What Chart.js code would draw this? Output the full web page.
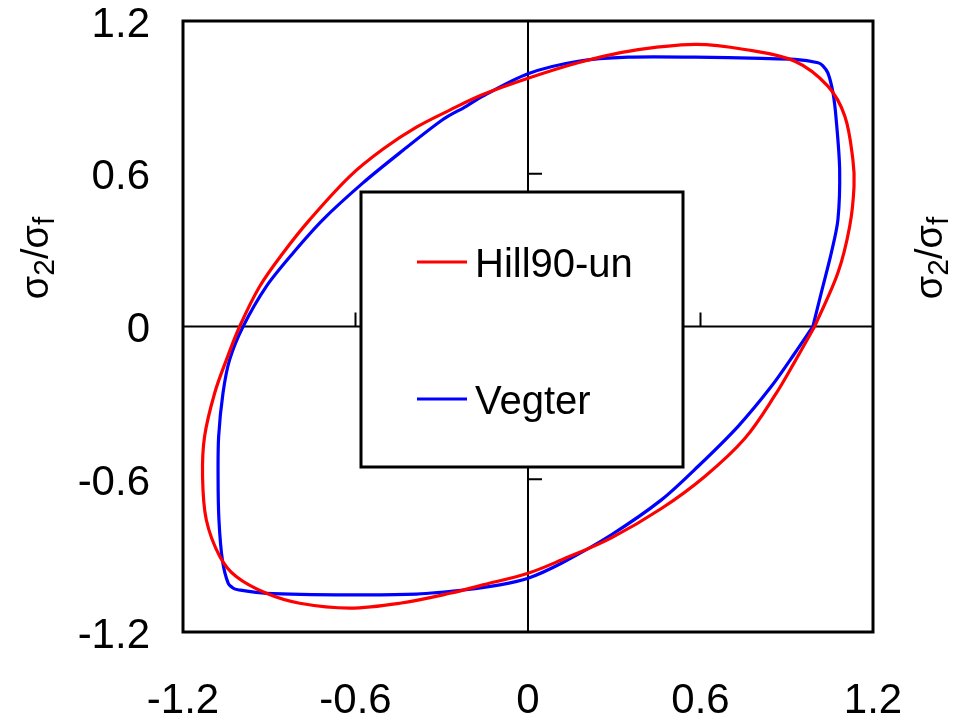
<!DOCTYPE html>
<html><head><meta charset="utf-8">
<script src="https://cdn.jsdelivr.net/npm/chart.js@4/dist/chart.umd.min.js"></script>
<style>html,body{margin:0;padding:0;background:#fff;}#wrap{width:956px;height:722px;}</style>
</head><body><div id="wrap"><canvas id="c" width="956" height="722"></canvas></div>
<script>
// ---- data ----
const tickValues = [-1.2, -0.6, 0, 0.6, 1.2];
const tickLabels = ["-1.2", "-0.6", "0", "0.6", "1.2"];
const axisTitleMain = "σ";
const axisTitleSub1 = "2";
const axisTitleSlash = "/";
const axisTitleSub2 = "f";
const seriesNames = ["Hill90-un", "Vegter"];

const hillX = [0.997, 1.078, 1.119, 1.134, 1.130, 1.102, 1.043, 0.928, 0.754, 0.580, 0.348, 0.174, 0.000, -0.157, -0.272, -0.388, -0.504, -0.620, -0.759, -0.852, -0.933, -1.003, -1.049, -1.090, -1.125, -1.132, -1.119, -1.072, -1.015, -0.910, -0.794, -0.620, -0.446, -0.272, -0.157, 0.000, 0.116, 0.290, 0.464, 0.615, 0.754, 0.858, 0.928, 0.997];
const hillY = [0.000, 0.211, 0.394, 0.551, 0.656, 0.826, 0.944, 1.042, 1.088, 1.108, 1.081, 1.036, 0.975, 0.911, 0.850, 0.783, 0.697, 0.590, 0.420, 0.289, 0.158, 0.000, -0.131, -0.262, -0.432, -0.589, -0.759, -0.903, -0.982, -1.048, -1.087, -1.106, -1.087, -1.048, -1.015, -0.969, -0.917, -0.830, -0.715, -0.589, -0.440, -0.272, -0.138, 0.000];

const vegterX = [0.991, 1.020, 1.055, 1.078, 1.084, 1.072, 1.061, 1.043, 1.025, 1.009, 0.928, 0.812, 0.580, 0.348, 0.174, 0.000, -0.157, -0.215, -0.296, -0.446, -0.574, -0.713, -0.817, -0.910, -0.991, -1.038, -1.061, -1.076, -1.078, -1.075, -1.063, -1.043, -1.025, -1.009, -0.910, -0.620, -0.388, -0.215, -0.098, 0.000, 0.116, 0.290, 0.464, 0.591, 0.730, 0.846, 0.928, 0.991];
const vegterY = [0.000, 0.132, 0.289, 0.420, 0.617, 0.813, 0.917, 0.996, 1.025, 1.036, 1.049, 1.053, 1.058, 1.058, 1.042, 0.993, 0.905, 0.865, 0.813, 0.682, 0.564, 0.420, 0.289, 0.158, 0.000, -0.131, -0.262, -0.432, -0.589, -0.759, -0.917, -1.008, -1.028, -1.034, -1.048, -1.054, -1.051, -1.034, -1.015, -0.989, -0.930, -0.818, -0.681, -0.550, -0.393, -0.236, -0.105, 0.000];

// ---- styles ----
const colors = ["#ff0000", "#0000ff"];
const FONT = "'Liberation Sans', Arial, sans-serif";

function pts(xs, ys) { return xs.map((x, i) => ({ x: x, y: ys[i] })); }

const framePlugin = {
  id: 'frame',
  beforeDatasetsDraw(chart) {
    const ctx = chart.ctx, a = chart.chartArea, sx = chart.scales.x, sy = chart.scales.y;
    const x0 = sx.getPixelForValue(0), y0 = sy.getPixelForValue(0);
    ctx.save();
    ctx.strokeStyle = '#000';
    ctx.lineWidth = 2;
    ctx.beginPath();
    ctx.moveTo(a.left, y0); ctx.lineTo(a.right, y0);
    ctx.moveTo(x0, a.top); ctx.lineTo(x0, a.bottom);
    [-0.6, 0.6].forEach(v => {
      const px = sx.getPixelForValue(v);
      ctx.moveTo(px, y0); ctx.lineTo(px, y0 - 14);
      const py = sy.getPixelForValue(v);
      ctx.moveTo(x0, py); ctx.lineTo(x0 + 14, py);
    });
    ctx.stroke();
    ctx.restore();
  },
  afterDatasetsDraw(chart) {
    const ctx = chart.ctx, a = chart.chartArea;
    ctx.save();
    // legend box
    const bl = a.left + 178, bt = a.top + 171, bw = 322, bh = 275;
    ctx.fillStyle = '#fff';
    ctx.fillRect(bl, bt, bw, bh);
    ctx.strokeStyle = '#000';
    ctx.lineWidth = 3;
    ctx.strokeRect(bl, bt, bw, bh);
    const rows = [bt + 70, bt + 207];
    chart.data.datasets.forEach((ds, i) => {
      ctx.strokeStyle = ds.borderColor;
      ctx.lineWidth = 3;
      ctx.beginPath();
      ctx.moveTo(bl + 56, rows[i]); ctx.lineTo(bl + 106, rows[i]);
      ctx.stroke();
      ctx.fillStyle = '#000';
      ctx.font = '40px ' + FONT;
      ctx.textBaseline = 'middle';
      ctx.textAlign = 'left';
      ctx.fillText(ds.label, bl + 114, rows[i] + 4);
    });
    // frame
    ctx.strokeStyle = '#000';
    ctx.lineWidth = 3;
    ctx.strokeRect(a.left, a.top, a.right - a.left, a.bottom - a.top);
    ctx.restore();
  },
  afterDraw(chart) {
    const ctx = chart.ctx;
    const drawTitle = (cx, cy) => {
      const big = '38px ' + FONT, small = '30px ' + FONT;
      const parts = [[axisTitleMain, big, 0], [axisTitleSub1, small, 6], [axisTitleSlash, big, 0], [axisTitleMain, big, 0], [axisTitleSub2, small, 6]];
      ctx.save();
      let total = 0;
      parts.forEach(p => { ctx.font = p[1]; total += ctx.measureText(p[0]).width; });
      ctx.translate(cx, cy);
      ctx.rotate(-Math.PI / 2);
      ctx.fillStyle = '#000';
      ctx.textBaseline = 'alphabetic';
      ctx.textAlign = 'left';
      let x = -total / 2;
      parts.forEach(p => {
        ctx.font = p[1];
        ctx.fillText(p[0], x, 10 + p[2]);
        x += ctx.measureText(p[0]).width;
      });
      ctx.restore();
    };
    drawTitle(38, 258);
    drawTitle(932, 258);
  }
};

const tickCfg = {
  color: '#000',
  font: { size: 42, family: FONT },
  callback: (v, i) => tickLabels[i]
};

function noPad(s) { s.paddingTop = 0; s.paddingBottom = 0; s.paddingLeft = 0; s.paddingRight = 0; }

new Chart(document.getElementById('c'), {
  type: 'scatter',
  data: {
    datasets: [
      { label: seriesNames[0], data: pts(hillX, hillY), showLine: true, borderColor: colors[0], backgroundColor: colors[0], borderWidth: 3.2, pointRadius: 0, tension: 0.35, fill: false },
      { label: seriesNames[1], data: pts(vegterX, vegterY), showLine: true, borderColor: colors[1], backgroundColor: colors[1], borderWidth: 3.2, pointRadius: 0, tension: 0.3, fill: false }
    ]
  },
  options: {
    responsive: false,
    animation: false,
    devicePixelRatio: 1,
    layout: { padding: { left: 0, right: 83, top: 21, bottom: 0 } },
    plugins: { legend: { display: false }, tooltip: { enabled: false } },
    scales: {
      x: {
        type: 'linear', min: -1.2, max: 1.2,
        afterBuildTicks: s => { s.ticks = tickValues.map(v => ({ value: v })); },
        afterFit: s => { s.height = 90; noPad(s); },
        grid: { display: false, drawTicks: false }, border: { display: false },
        ticks: Object.assign({}, tickCfg, { padding: 44, maxRotation: 0, autoSkip: false })
      },
      y: {
        type: 'linear', min: -1.2, max: 1.2,
        afterBuildTicks: s => { s.ticks = tickValues.map(v => ({ value: v })); },
        afterFit: s => { s.width = 183; noPad(s); },
        grid: { display: false, drawTicks: false }, border: { display: false },
        ticks: Object.assign({}, tickCfg, { padding: 33, autoSkip: false, labelOffset: 4 })
      }
    }
  },
  plugins: [framePlugin]
});
</script>
</body></html>
